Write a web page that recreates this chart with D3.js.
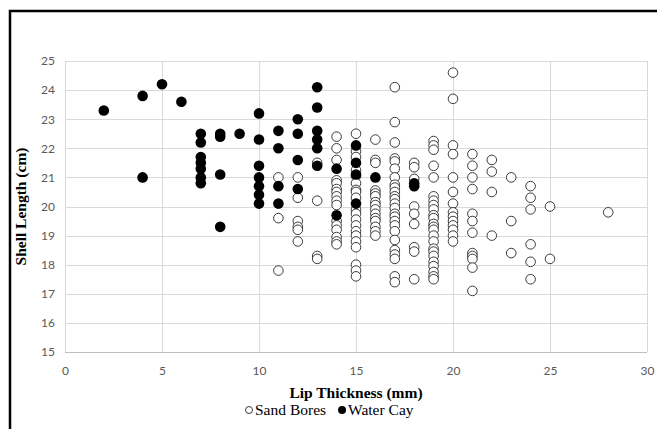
<!DOCTYPE html>
<html>
<head>
<meta charset="utf-8">
<script src="https://cdn.jsdelivr.net/npm/d3@7"></script>
<style>
  body { margin: 0; background: #fff; }
  .tick text { fill: #595959; font-family: Lato, "Open Sans", sans-serif; font-size: 12px; }
  .title { font-family: "Liberation Serif", "Times New Roman", serif; font-weight: bold; font-size: 15.5px; fill: #000; }
  .legend text { font-family: "Liberation Serif", "Times New Roman", serif; font-size: 15.5px; fill: #000; }
</style>
</head>
<body>
<div id="content"></div>
<script>
// lip thickness (mm) -> shell lengths (cm)
var sandBores = [
  [11, [21.0, 19.6, 17.8]],
  [12, [21.0, 20.3, 19.5, 19.3, 19.2, 18.8]],
  [13, [21.5, 20.2, 18.3, 18.2]],
  [14, [22.4, 22.0, 21.6, 20.9, 20.8, 20.6, 20.5, 20.35, 20.2, 20.05, 19.5, 19.35, 19.2, 18.95, 18.8, 18.7]],
  [15, [22.5, 21.9, 21.7, 21.25, 21.05, 20.8, 20.57, 20.5, 20.3, 19.9, 19.75, 19.55, 19.35, 19.15, 19.0, 18.8, 18.6, 18.0, 17.8, 17.6]],
  [16, [22.3, 21.6, 21.5, 20.55, 20.45, 20.35, 20.15, 20.05, 19.9, 19.75, 19.6, 19.5, 19.3, 19.15, 19.0]],
  [17, [24.1, 22.9, 22.2, 21.65, 21.55, 21.3, 21.0, 20.75, 20.65, 20.5, 20.35, 20.25, 20.1, 19.95, 19.75, 19.65, 19.5, 19.35, 19.15, 18.85, 18.5, 18.35, 18.2, 17.6, 17.4]],
  [18, [21.5, 21.35, 20.95, 20.0, 19.75, 19.4, 18.6, 18.45, 17.5]],
  [19, [22.25, 22.1, 21.95, 21.4, 21.0, 20.35, 20.2, 20.05, 19.9, 19.7, 19.6, 19.4, 19.3, 19.2, 19.0, 18.8, 18.55, 18.45, 18.3, 18.1, 17.95, 17.75, 17.6, 17.5]],
  [20, [24.6, 23.7, 22.1, 21.8, 21.0, 20.5, 20.1, 19.8, 19.65, 19.5, 19.35, 19.2, 19.0, 18.8]],
  [21, [21.8, 21.4, 21.0, 20.6, 19.75, 19.5, 19.1, 18.4, 18.3, 18.2, 17.9, 17.1]],
  [22, [21.6, 21.2, 20.5, 19.0]],
  [23, [21.0, 19.5, 18.4]],
  [24, [20.7, 20.3, 19.9, 18.7, 18.1, 17.5]],
  [25, [20.0, 18.2]],
  [28, [19.8]]
];

var waterCay = [
  [2, [23.3]],
  [4, [23.8, 21.0]],
  [5, [24.2]],
  [6, [23.6]],
  [7, [22.5, 22.2, 21.7, 21.5, 21.3, 21.0, 20.8]],
  [8, [22.5, 22.4, 21.1, 19.3]],
  [9, [22.5]],
  [10, [23.2, 22.3, 21.4, 21.0, 20.7, 20.4, 20.1]],
  [11, [22.6, 22.0, 20.7, 20.1]],
  [12, [23.0, 22.5, 21.6, 20.6]],
  [13, [24.1, 23.4, 22.6, 22.3, 22.0, 21.4]],
  [14, [21.3, 19.7]],
  [15, [22.1, 21.5, 21.1, 20.1]],
  [16, [21.0]],
  [18, [20.8, 20.7]]
];

var xTicks = [0, 5, 10, 15, 20, 25, 30],
    yTicks = [15, 16, 17, 18, 19, 20, 21, 22, 23, 24, 25];

function flatten(groups) {
  var out = [];
  groups.forEach(function(g) {
    g[1].forEach(function(v) { out.push({ x: g[0], y: v }); });
  });
  return out;
}

var W = 657, H = 429;
var margin = { top: 61, right: 10, bottom: 77, left: 65 },
    w = W - margin.left - margin.right,
    h = H - margin.top - margin.bottom;

var xScale = d3.scaleLinear().domain([0, 30]).range([0, w]),
    yScale = d3.scaleLinear().domain([15, 25]).range([h, 0]);

var root = d3.select("#content").append("svg")
    .attr("width", W)
    .attr("height", H);

// black frame (top + left)
root.append("path")
    .attr("d", "M10,429 L10,11 L657,11")
    .attr("fill", "none")
    .attr("stroke", "#000")
    .attr("stroke-width", 2.5);

var svg = root.append("g")
    .attr("transform", "translate(" + margin.left + "," + margin.top + ")");

// gridlines
svg.append("g").selectAll("line.h")
    .data(yTicks.slice(1))
    .enter().append("line")
    .attr("x1", 0).attr("x2", w)
    .attr("y1", function(d) { return Math.round(yScale(d)) + 0.5; })
    .attr("y2", function(d) { return Math.round(yScale(d)) + 0.5; })
    .attr("stroke", "#d9d9d9");

svg.append("g").selectAll("line.v")
    .data(xTicks)
    .enter().append("line")
    .attr("y1", 0).attr("y2", h)
    .attr("x1", function(d) { return Math.round(xScale(d)) + 0.5; })
    .attr("x2", function(d) { return Math.round(xScale(d)) + 0.5; })
    .attr("stroke", "#d9d9d9");

// bottom axis line
svg.append("line")
    .attr("x1", 0).attr("x2", w)
    .attr("y1", h + 0.5).attr("y2", h + 0.5)
    .attr("stroke", "#bfbfbf");

var xAxis = d3.axisBottom(xScale).tickValues(xTicks).tickSize(0).tickPadding(14);
var yAxis = d3.axisLeft(yScale).tickValues(yTicks).tickSize(0).tickPadding(10);

svg.append("g")
    .attr("transform", "translate(0," + h + ")")
    .call(xAxis)
    .call(function(g) { g.select(".domain").remove(); });

svg.append("g")
    .call(yAxis)
    .call(function(g) { g.select(".domain").remove(); });

// points
svg.append("g").selectAll("circle")
    .data(flatten(sandBores))
    .enter().append("circle")
    .attr("cx", function(d) { return xScale(d.x); })
    .attr("cy", function(d) { return yScale(d.y); })
    .attr("r", 4.8)
    .attr("fill", "#fff")
    .attr("stroke", "#262626")
    .attr("stroke-width", 0.9);

svg.append("g").selectAll("circle")
    .data(flatten(waterCay))
    .enter().append("circle")
    .attr("cx", function(d) { return xScale(d.x); })
    .attr("cy", function(d) { return yScale(d.y); })
    .attr("r", 5.3)
    .attr("fill", "#000");

// axis titles
svg.append("text")
    .attr("class", "title")
    .attr("text-anchor", "middle")
    .attr("x", w / 2)
    .attr("y", h + 46)
    .text("Lip Thickness (mm)");

svg.append("text")
    .attr("class", "title")
    .attr("text-anchor", "middle")
    .attr("transform", "translate(" + (-39) + "," + (h / 2) + ") rotate(-90)")
    .text("Shell Length (cm)");

// legend
var legend = root.append("g")
    .attr("class", "legend")
    .attr("transform", "translate(0,415)");

var items = [
  { name: "Sand Bores", fill: "#fff", stroke: "#262626", r: 3.5 },
  { name: "Water Cay", fill: "#000", stroke: "none", r: 4 }
];

var lx = 245;
items.forEach(function(it) {
  legend.append("circle")
      .attr("cx", lx + 4).attr("cy", -5).attr("r", it.r)
      .attr("fill", it.fill).attr("stroke", it.stroke).attr("stroke-width", 0.9);
  var t = legend.append("text").attr("x", lx + 10).attr("y", 0).text(it.name);
  lx += 10 + t.node().getComputedTextLength() + 12;
});
</script>
</body>
</html>
